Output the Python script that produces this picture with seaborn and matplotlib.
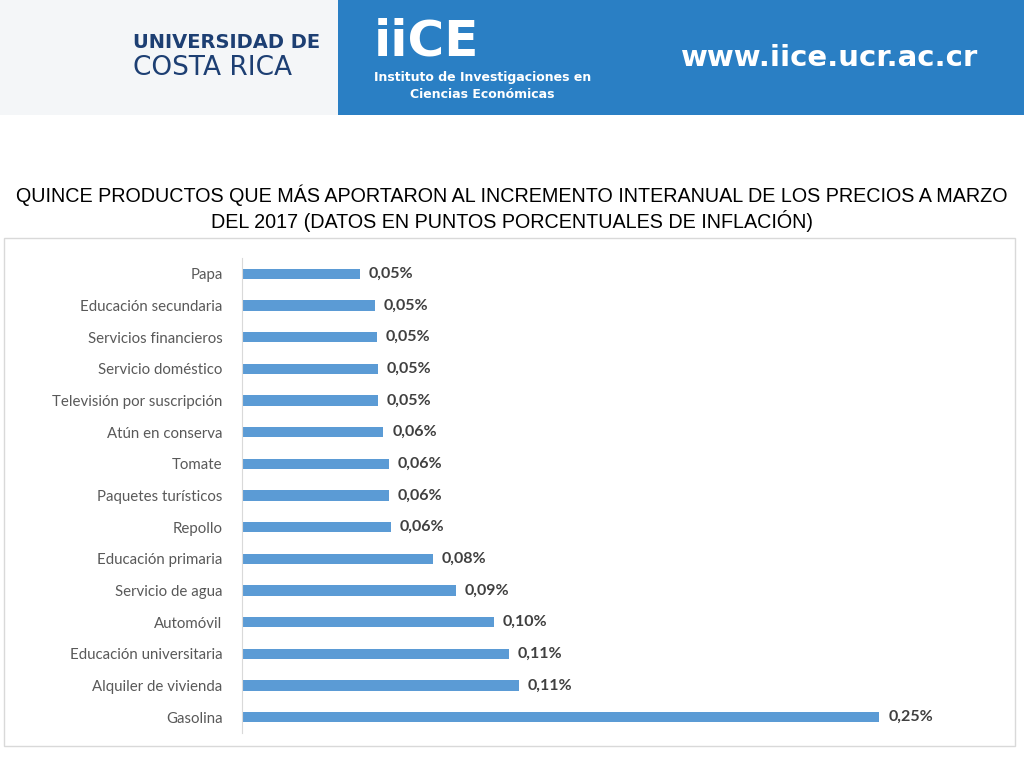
import matplotlib
matplotlib.use("Agg")
import matplotlib.pyplot as plt
from matplotlib.patches import Rectangle
import seaborn as sns
import pandas as pd

productos = ["Papa", "Educación secundaria", "Servicios financieros", "Servicio doméstico",
             "Televisión por suscripción", "Atún en conserva", "Tomate", "Paquetes turísticos",
             "Repollo", "Educación primaria", "Servicio de agua", "Automóvil",
             "Educación universitaria", "Alquiler de vivienda", "Gasolina"]
valores = [0.0463, 0.0522, 0.0530, 0.0534, 0.0534, 0.0555, 0.0577, 0.0577,
           0.0585, 0.0750, 0.0840, 0.0989, 0.1048, 0.1087, 0.2500]
etiquetas = ["0,05%", "0,05%", "0,05%", "0,05%", "0,05%", "0,06%", "0,06%", "0,06%",
             "0,06%", "0,08%", "0,09%", "0,10%", "0,11%", "0,11%", "0,25%"]

df = pd.DataFrame({"Producto": productos, "Valor": valores})

fig = plt.figure(figsize=(10.24, 7.68), dpi=100)

# header banner
fig.patches.append(Rectangle((0, 1 - 115 / 768), 1, 115 / 768, transform=fig.transFigure,
                             facecolor="#2a7fc4", edgecolor="none", zorder=-2))
fig.patches.append(Rectangle((0, 1 - 115 / 768), 0.33, 115 / 768, transform=fig.transFigure,
                             facecolor="#f4f6f8", edgecolor="none", zorder=-2))
fig.text(0.13, 1 - 43 / 768, "UNIVERSIDAD DE", fontsize=14, color="#1d3f73", fontweight="bold", va="center")
fig.text(0.13, 1 - 68 / 768, "COSTA RICA", fontsize=19, color="#1d3f73", va="center")
fig.text(0.365, 1 - 42 / 768, "iiCE", fontsize=36, color="white", fontweight="bold", va="center")
fig.text(0.365, 1 - 78 / 768, "Instituto de Investigaciones en", fontsize=9, color="white", fontweight="bold", va="center")
fig.text(0.40, 1 - 95 / 768, "Ciencias Económicas", fontsize=9, color="white", fontweight="bold", va="center")
fig.text(0.665, 1 - 58 / 768, "www.iice.ucr.ac.cr", fontsize=21, color="white", fontweight="bold", va="center")

fig.text(0.5, 1 - 208 / 768,
         "QUINCE PRODUCTOS QUE MÁS APORTARON AL INCREMENTO INTERANUAL DE LOS PRECIOS A MARZO\n"
         "DEL 2017 (DATOS EN PUNTOS PORCENTUALES DE INFLACIÓN)",
         ha="center", va="center", fontsize=14.2, family="Liberation Sans", linespacing=1.2)

# chart frame
fig.patches.append(Rectangle((4 / 1024, 1 - 746 / 768), 1011 / 1024, 508 / 768, transform=fig.transFigure,
                             facecolor="white", edgecolor="#d9d9d9", lw=1, zorder=-1))

ax = fig.add_axes([242 / 1024, 1 - 733 / 768, 780 / 1024, 475 / 768])
sns.barplot(data=df, x="Valor", y="Producto", color="#5b9bd5", width=0.32, ax=ax,
            orient="h", saturation=1)
for i, (v, t) in enumerate(zip(valores, etiquetas)):
    ax.text(v + 0.0035, i, t, va="center", ha="left", fontsize=11.5, fontweight="bold",
            color="#404040", family="Lato")
ax.set_xlim(0, 0.306)
ax.set_ylim(14.5, -0.5)
ax.set_xlabel("")
ax.set_ylabel("")
ax.set_xticks([])
ax.tick_params(axis="y", length=0, pad=14, labelsize=10.8, labelcolor="#595959")
for lab in ax.get_yticklabels():
    lab.set_family("Lato")
for s in ["top", "right", "bottom"]:
    ax.spines[s].set_visible(False)
ax.spines["left"].set_color("#d9d9d9")
ax.patch.set_alpha(0)

fig.savefig("out.png", dpi=100)
